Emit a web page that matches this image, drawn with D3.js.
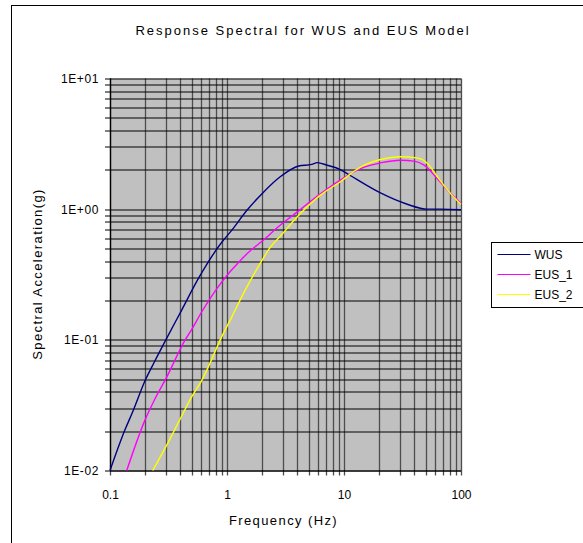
<!DOCTYPE html>
<html>
<head>
<meta charset="utf-8">
<script src="https://cdn.jsdelivr.net/npm/d3@7"></script>
<style>
  body { margin: 0; background: #fff; }
  svg { display: block; font-family: "Liberation Sans", Arial, sans-serif; }
</style>
</head>
<body>
<div class="chart"></div>
<script>
var wusFreq  = [0.1, 0.134, 0.156, 0.2, 0.24, 0.3, 0.41, 0.57, 0.93, 1.07, 1.48, 2.05, 2.85, 4.1, 5.3, 5.9, 7.17, 9.3, 11.3, 20.5, 34.7, 51.5, 67, 100];
var wusAcc   = [0.010, 0.0204, 0.028, 0.049, 0.068, 0.10, 0.169, 0.295, 0.578, 0.67, 0.98, 1.35, 1.77, 2.14, 2.2, 2.27, 2.17, 2.01, 1.81, 1.33, 1.09, 1.0, 1.0, 0.99];

var eus1Freq = [0.139, 0.199, 0.239, 0.306, 0.439, 0.494, 0.609, 0.903, 1.30, 1.58, 2.05, 2.68, 3.97, 6.28, 9.3, 13.8, 20.5, 30.4, 39.7, 48.4, 62.8, 81.9, 100];
var eus1Acc  = [0.010, 0.0243, 0.0345, 0.052, 0.10, 0.118, 0.164, 0.278, 0.405, 0.48, 0.58, 0.72, 0.95, 1.31, 1.67, 2.04, 2.26, 2.37, 2.33, 2.17, 1.71, 1.31, 1.11];

var eus2Freq = [0.232, 0.306, 0.4, 0.5, 0.609, 0.73, 0.876, 1.1, 1.43, 1.99, 2.34, 2.9, 3.97, 6.28, 9.3, 13.8, 20.5, 30.4, 43, 51.5, 62.8, 81.9, 100];
var eus2Acc  = [0.010, 0.0157, 0.025, 0.0367, 0.049, 0.069, 0.10, 0.15, 0.24, 0.405, 0.51, 0.63, 0.87, 1.28, 1.62, 2.1, 2.4, 2.52, 2.46, 2.25, 1.77, 1.31, 1.09];

var seriesNames  = ['WUS', 'EUS_1', 'EUS_2'];
var seriesColors = ['#000080', '#ff00ff', '#ffff00'];

var xTicks = [0.1, 1, 10, 100];
var xTickLabels = ['0.1', '1', '10', '100'];
var yTicks = [0.01, 0.1, 1, 10];
var yTickLabels = ['1E-02', '1E-01', '1E+00', '1E+01'];

var W = 583, H = 543;
var margin = {top: 78.5, right: 122, bottom: 72.5, left: 110};
var width = W - margin.left - margin.right;
var height = H - margin.top - margin.bottom;

var svg = d3.select('.chart').append('svg')
  .attr('width', W)
  .attr('height', H);

// outer chart frame
svg.append('rect')
  .attr('x', 11.5).attr('y', 5.5)
  .attr('width', 700).attr('height', 700)
  .attr('fill', 'none')
  .attr('stroke', '#000');

var x = d3.scaleLog().domain([0.1, 100]).range([0, width]);
var y = d3.scaleLog().domain([0.01, 10]).range([height, 0]);

var g = svg.append('g')
  .attr('transform', 'translate(' + margin.left + ',' + margin.top + ')');

g.append('rect')
  .attr('width', width).attr('height', height)
  .attr('fill', '#c0c0c0');

// every 1..9 value in each decade
var allSteps = function (lo, hi) {
  var out = [];
  for (var d = lo; d < hi * 0.999; d *= 10) {
    for (var k = 1; k < 10; k++) out.push(d * k);
  }
  out.push(hi);
  return out;
};
var xGrid = allSteps(0.1, 100);
var yGrid = allSteps(0.01, 10);

g.selectAll('.vgrid')
  .data(xGrid)
  .enter().append('line')
  .attr('class', 'vgrid')
  .attr('x1', d => Math.round(x(d)) + 0.5).attr('x2', d => Math.round(x(d)) + 0.5)
  .attr('y1', 0).attr('y2', height + 5)
  .attr('stroke', '#4d4d4d')
  .attr('stroke-width', 1.3);

g.selectAll('.hgrid')
  .data(yGrid)
  .enter().append('line')
  .attr('class', 'hgrid')
  .attr('x1', -5).attr('x2', width)
  .attr('y1', d => Math.round(y(d)) + 0.5).attr('y2', d => Math.round(y(d)) + 0.5)
  .attr('stroke', '#000')
  .attr('stroke-width', 1);

// axis lines
g.append('line')
  .attr('x1', 0.5).attr('x2', 0.5).attr('y1', 0).attr('y2', height)
  .attr('stroke', '#000').attr('stroke-width', 1.3);
g.append('line')
  .attr('x1', 0).attr('x2', width).attr('y1', height + 0.5).attr('y2', height + 0.5)
  .attr('stroke', '#000');

// axes labels via d3 axes (ticks hidden, grid already drawn)
var xAxis = d3.axisBottom(x).tickValues(xTicks)
  .tickFormat((d, i) => xTickLabels[i]).tickSize(0).tickPadding(20);
var yAxis = d3.axisLeft(y).tickValues(yTicks)
  .tickFormat((d, i) => yTickLabels[i]).tickSize(0).tickPadding(11);

g.append('g')
  .attr('transform', 'translate(0,' + height + ')')
  .call(xAxis)
  .call(s => s.select('.domain').remove())
  .selectAll('text')
  .attr('font-size', 12).attr('fill', '#000')
  .attr('font-family', '"Liberation Sans", Arial, sans-serif');

g.append('g')
  .call(yAxis)
  .call(s => s.select('.domain').remove())
  .selectAll('text')
  .attr('font-size', 12).attr('fill', '#000')
  .style('letter-spacing', '0.6px')
  .attr('font-family', '"Liberation Sans", Arial, sans-serif');

// data lines
var series = [
  {name: seriesNames[0], color: seriesColors[0], pts: d3.zip(wusFreq, wusAcc)},
  {name: seriesNames[1], color: seriesColors[1], pts: d3.zip(eus1Freq, eus1Acc)},
  {name: seriesNames[2], color: seriesColors[2], pts: d3.zip(eus2Freq, eus2Acc)}
];

var line = d3.line()
  .x(d => x(d[0]))
  .y(d => y(d[1]))
  .curve(d3.curveMonotoneX);

g.selectAll('.series')
  .data(series)
  .enter().append('path')
  .attr('class', 'series')
  .attr('d', d => line(d.pts))
  .attr('fill', 'none')
  .attr('stroke', d => d.color)
  .attr('stroke-width', 1.4);

// titles
svg.append('text')
  .attr('x', 303).attr('y', 35)
  .attr('text-anchor', 'middle')
  .attr('font-size', 13)
  .style('letter-spacing', '2px')
  .text('Response Spectral for WUS and EUS Model');

svg.append('text')
  .attr('x', margin.left + width / 2 - 2).attr('y', 525)
  .attr('text-anchor', 'middle')
  .attr('font-size', 13)
  .style('letter-spacing', '1.4px')
  .text('Frequency (Hz)');

svg.append('text')
  .attr('transform', 'translate(42,' + 274 + ') rotate(-90)')
  .attr('text-anchor', 'middle')
  .attr('font-size', 13)
  .style('letter-spacing', '1.4px')
  .text('Spectral Acceleration(g)');

// legend
var legend = svg.append('g').attr('transform', 'translate(491.5,242.5)');
legend.append('rect')
  .attr('width', 120).attr('height', 65)
  .attr('fill', '#fff').attr('stroke', '#000');

var item = legend.selectAll('.item')
  .data(series)
  .enter().append('g')
  .attr('class', 'item')
  .attr('transform', (d, i) => 'translate(0,' + (12 + i * 20) + ')');
item.append('line')
  .attr('x1', 6).attr('x2', 39)
  .attr('stroke', d => d.color).attr('stroke-width', 1.2);
item.append('text')
  .attr('x', 43).attr('y', 4.5)
  .attr('font-size', 12)
  .text(d => d.name);
</script>
</body>
</html>
